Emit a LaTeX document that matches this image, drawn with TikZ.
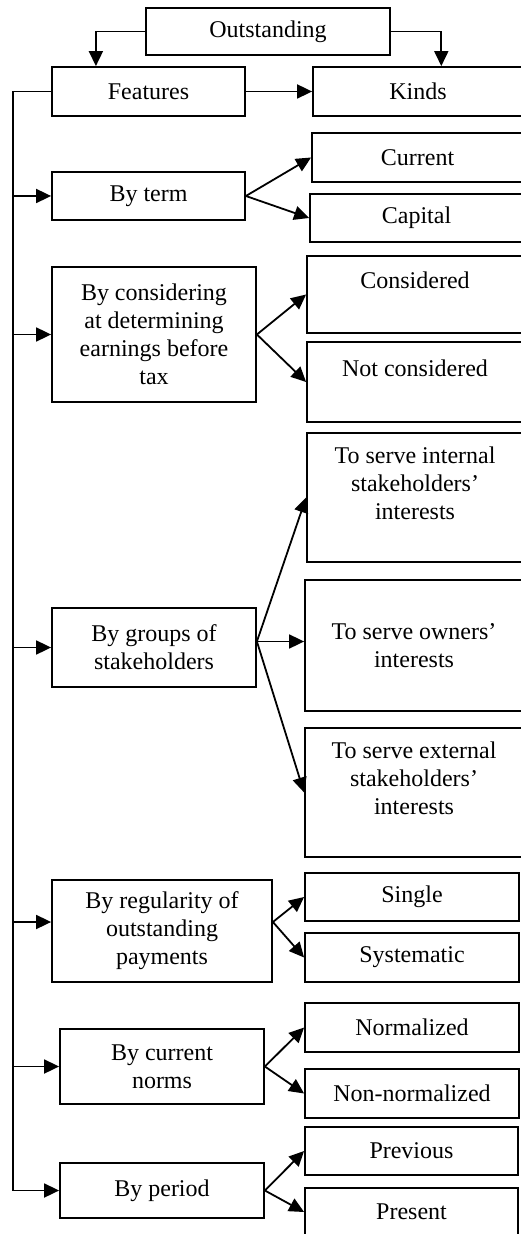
\documentclass[tikz,border=0pt]{standalone}
\usepackage{fontspec}
\setmainfont{Liberation Serif}
\usetikzlibrary{arrows.meta,calc}

\tikzset{every picture/.style={line width=0.9pt}}
\tikzset{box/.style={draw, rectangle, inner sep=0pt, align=center, font=\fontsize{12}{14}\selectfont},
  arr/.style={-{Triangle[length=7.5pt,width=7pt]}}}

\begin{document}
\begin{tikzpicture}[x=0.5pt,y=0.5pt,yscale=-1,xscale=1]
\useasboundingbox (0,0) rectangle (520,1234);

%Shape: Rectangle [top]
\node[box, minimum width=122pt, minimum height=23.5pt] (out) at (268,31.5) {Outstanding};
%Shape: Rectangle
\node[box, minimum width=96.5pt, minimum height=24.5pt] (feat) at (148.5,91.5) {Features};
%Shape: Rectangle
\node[box, minimum width=105pt, minimum height=24.5pt] (kinds) at (418,91.5) {Kinds};

%Shape: Rectangle [features]
\node[box, minimum width=96.5pt, minimum height=24pt] (term) at (148.5,196) {By term};
\node[box, minimum width=102pt, minimum height=67.5pt] (cons) at (154,334.5) {By considering\\at determining\\earnings before\\tax};
\node[box, minimum width=102pt, minimum height=39.5pt] (grp) at (154,647.5) {By groups of\\stakeholders};
\node[box, minimum width=110pt, minimum height=51pt] (reg) at (162,931) {By regularity of\\outstanding\\payments};
\node[box, minimum width=102pt, minimum height=37.5pt] (norms) at (162,1066.5) {By current\\norms};
\node[box, minimum width=102pt, minimum height=27.5pt] (period) at (162,1190.5) {By period};

%Shape: Rectangle [kinds]
\node[box, minimum width=105.5pt, minimum height=24.5pt] (cur) at (417.5,157.5) {Current};
\node[box, minimum width=106.5pt, minimum height=24pt] (cap) at (416.5,218) {Capital};
\node[box, minimum width=108pt, minimum height=38.5pt] (consd) at (415,294.5) {Considered\\\mbox{}};
\node[box, minimum width=108pt, minimum height=40pt] (notc) at (415,382) {Not considered\\\mbox{}};
\node[box, minimum width=108pt, minimum height=64.5pt] (intl) at (415,497.5) {To serve internal\\stakeholders’\\interests\\\mbox{}};
\node[box, minimum width=109pt, minimum height=65.5pt] (own) at (414,645.5) {To serve owners’\\interests};
\node[box, minimum width=109pt, minimum height=64.5pt] (ext) at (414,792.5) {To serve external\\stakeholders’\\interests\\\mbox{}};
\node[box, minimum width=107pt, minimum height=24pt] (single) at (412,897) {Single};
\node[box, minimum width=107pt, minimum height=24.5pt] (syst) at (412,957.5) {Systematic};
\node[box, minimum width=107pt, minimum height=24.5pt] (normd) at (412,1027.5) {Normalized};
\node[box, minimum width=107pt, minimum height=24.5pt] (nonn) at (412,1093.5) {Non-normalized};
\node[box, minimum width=106.5pt, minimum height=24pt] (prev) at (411.5,1151) {Previous};
\node[box, minimum width=106.5pt, minimum height=24pt] (pres) at (411.5,1212) {Present};

\coordinate (trunk) at ($(feat.west)+(-38,0)$);
\coordinate (regin) at ([yshift=-4.5pt]reg.west);
\coordinate (regout) at ([yshift=-4.5pt]reg.east);
\coordinate (grpout) at ([yshift=-3pt]grp.east);

%Straight Lines [top]
\draw[arr] (out.west) -| ($(feat.north west)!0.23!(feat.north east)$);
\draw[arr] (out.east) -| ($(kinds.north west)!0.61!(kinds.north east)$);
\draw[arr] (feat.east) -- (kinds.west);

%Straight Lines [trunk]
\draw[arr] (feat.west) -- (trunk) |- (period.west);
\draw[arr] (trunk |- term.west) -- (term.west);
\draw[arr] (trunk |- cons.west) -- (cons.west);
\draw[arr] (trunk |- grp.west) -- (grp.west);
\draw[arr] (trunk |- regin) -- (regin);
\draw[arr] (trunk |- norms.west) -- (norms.west);

%Straight Lines [branches]
\draw[arr] (term.east) -- (cur.west);
\draw[arr] (term.east) -- (cap.west);
\draw[arr] (cons.east) -- (consd.west);
\draw[arr] (cons.east) -- (notc.west);
\draw[arr] (grpout) -- (intl.west);
\draw[arr] (grpout) -- (grpout -| own.west);
\draw[arr] (grpout) -- (ext.west);
\draw[arr] (regout) -- (single.west);
\draw[arr] (regout) -- (syst.west);
\draw[arr] (norms.east) -- (normd.west);
\draw[arr] (norms.east) -- (nonn.west);
\draw[arr] (period.east) -- (prev.west);
\draw[arr] (period.east) -- (pres.west);

\end{tikzpicture}
\end{document}
